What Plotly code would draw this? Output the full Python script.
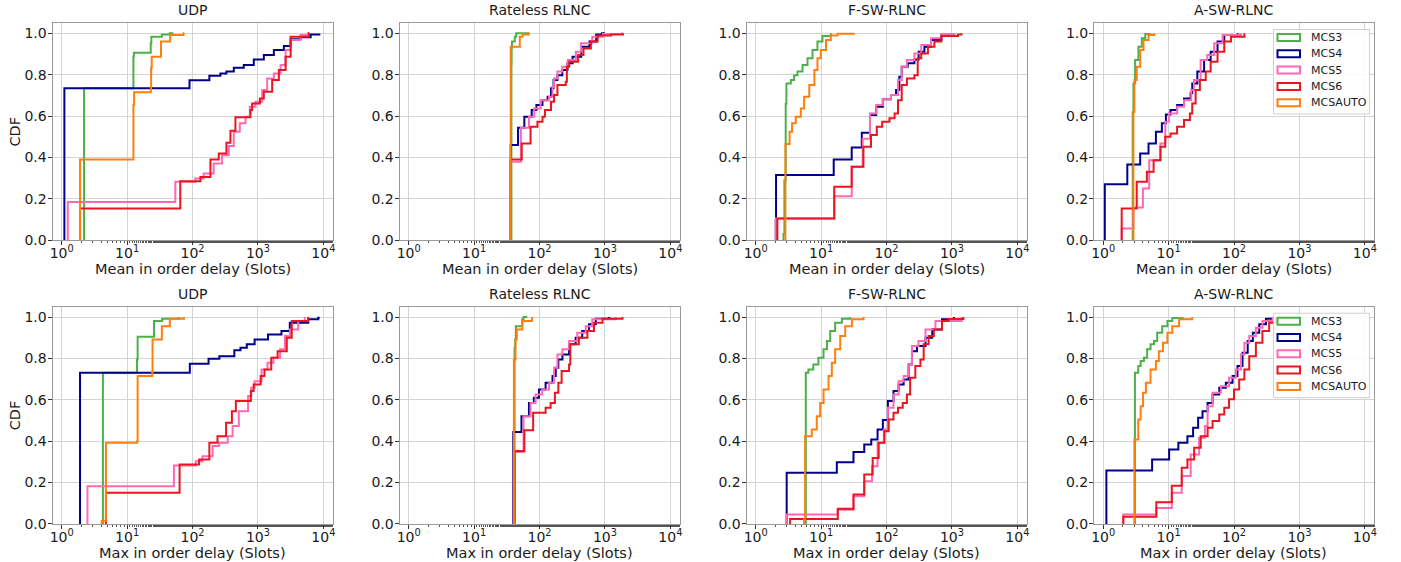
import plotly.graph_objects as go

# ---------------- labels ----------------
series_names = ["MCS3", "MCS4", "MCS5", "MCS6", "MCSAUTO"]
series_colors = ["#4daf4a", "#00008b", "#ff69b4", "#e8161e", "#ff7f0e"]
panel_titles = ["UDP", "Rateless RLNC", "F-SW-RLNC", "A-SW-RLNC"]
row_xlabels = ["Mean in order delay (Slots)", "Max in order delay (Slots)"]
y_label = "CDF"
x_tick_vals = [1, 10, 100, 1000, 10000]
x_tick_text = ["10<sup>0</sup>", "10<sup>1</sup>", "10<sup>2</sup>", "10<sup>3</sup>", "10<sup>4</sup>"]
y_tick_vals = [0.0, 0.2, 0.4, 0.6, 0.8, 1.0]

# ---------------- data: step CDFs (delay where the CDF jumps, CDF level after the jump) ----------------
# UDP, mean delay
udp_mean_mcs3_x = [2.2, 12.5, 12.7, 23, 23.5, 34, 45, 51]
udp_mean_mcs3_y = [0.734, 0.887, 0.906, 0.952, 0.984, 0.995, 1.0, 1.0]
udp_mean_mcs4_x = [1.1, 90, 181, 267, 330, 428, 608, 865, 1231, 1753, 2495, 3162, 4470, 6400, 9000]
udp_mean_mcs4_y = [0.734, 0.773, 0.795, 0.806, 0.815, 0.834, 0.847, 0.874, 0.895, 0.919, 0.939, 0.971, 0.981, 0.995, 0.995]
udp_mean_mcs5_x = [1.24, 54.6, 110, 148, 211, 283, 358, 427, 528, 646, 752, 918, 1162, 1386, 1753, 2218, 2648, 3162, 4470, 5800, 6030]
udp_mean_mcs5_y = [0.185, 0.282, 0.298, 0.323, 0.371, 0.411, 0.455, 0.524, 0.565, 0.597, 0.645, 0.669, 0.726, 0.782, 0.806, 0.847, 0.919, 0.968, 0.992, 1.0, 1.0]
udp_mean_mcs6_x = [1.91, 65, 132, 188, 252, 330, 380, 453, 770, 816, 1072, 1230, 1652, 2090, 2650, 3162, 6030, 6100]
udp_mean_mcs6_y = [0.153, 0.285, 0.306, 0.39, 0.419, 0.471, 0.529, 0.594, 0.629, 0.661, 0.685, 0.718, 0.774, 0.823, 0.887, 0.984, 1.0, 1.0]
udp_mean_auto_x = [1.91, 12.5, 12.8, 23, 23.3, 23.8, 33, 45.6, 73, 75]
udp_mean_auto_y = [0.39, 0.653, 0.715, 0.729, 0.834, 0.887, 0.96, 0.992, 1.0, 1.0]

# Rateless RLNC, mean delay
rl_mean_mcs3_x = [37.2, 37.5, 38, 42, 44, 69]
rl_mean_mcs3_y = [0.85, 0.93, 0.96, 0.984, 1.0, 1.0]
rl_mean_mcs4_x = [36.3, 47, 58.6, 75.9, 89.6, 111, 133, 150, 164, 188, 223, 268, 320, 435, 580, 735, 900, 1000]
rl_mean_mcs4_y = [0.46, 0.544, 0.597, 0.629, 0.653, 0.677, 0.694, 0.734, 0.774, 0.798, 0.823, 0.855, 0.887, 0.935, 0.96, 0.995, 1.0, 1.0]
rl_mean_mcs5_x = [36.3, 52, 69, 83, 104, 140, 158, 167, 188, 223, 270, 360, 430, 640, 930, 1850, 1890]
rl_mean_mcs5_y = [0.379, 0.544, 0.597, 0.637, 0.677, 0.694, 0.742, 0.782, 0.815, 0.839, 0.871, 0.911, 0.952, 0.984, 0.997, 1.0, 1.0]
rl_mean_mcs6_x = [36.3, 53.5, 73, 93, 111, 121, 150, 167, 188, 252, 262, 285, 390, 470, 610, 775, 1245, 1890]
rl_mean_mcs6_y = [0.39, 0.468, 0.548, 0.573, 0.597, 0.629, 0.669, 0.702, 0.75, 0.766, 0.839, 0.863, 0.895, 0.927, 0.96, 0.989, 0.995, 1.0]
rl_mean_auto_x = [36.3, 50, 55, 69, 70]
rl_mean_auto_y = [0.935, 0.984, 0.995, 1.0, 1.0]

# F-SW-RLNC, mean delay
fsw_mean_mcs3_x = [2.66, 2.75, 2.88, 2.95, 3.45, 3.87, 4.36, 5.2, 6.2, 7.4, 8.8, 10.5, 14.1]
fsw_mean_mcs3_y = [0.03, 0.29, 0.66, 0.758, 0.774, 0.798, 0.815, 0.847, 0.879, 0.919, 0.96, 0.987, 1.0]
fsw_mean_mcs4_x = [2.03, 2.05, 15.6, 29.4, 41.9, 56, 69.6, 88, 117, 140, 157, 171, 211, 267, 310, 380, 480, 690, 980]
fsw_mean_mcs4_y = [0.097, 0.315, 0.39, 0.448, 0.519, 0.605, 0.645, 0.681, 0.702, 0.726, 0.79, 0.839, 0.855, 0.874, 0.911, 0.935, 0.968, 0.995, 1.0]
fsw_mean_mcs5_x = [2.03, 15.9, 29.4, 43.3, 56, 69.6, 88, 117, 150, 171, 205, 267, 340, 480, 690, 1100]
fsw_mean_mcs5_y = [0.105, 0.213, 0.355, 0.49, 0.613, 0.653, 0.681, 0.702, 0.774, 0.839, 0.871, 0.903, 0.944, 0.976, 0.997, 1.0]
fsw_mean_mcs6_x = [2.15, 15.9, 29.4, 44.4, 58, 71, 86, 111, 133, 150, 171, 205, 267, 300, 340, 430, 540, 690, 1240, 1400]
fsw_mean_mcs6_y = [0.105, 0.258, 0.355, 0.452, 0.508, 0.548, 0.573, 0.589, 0.613, 0.677, 0.75, 0.782, 0.798, 0.879, 0.903, 0.935, 0.96, 0.987, 0.995, 1.0]
fsw_mean_auto_x = [2.85, 3.3, 3.6, 4.1, 4.9, 5.5, 6.6, 7.9, 8.8, 9.9, 11.9, 14.1, 17.9, 32]
fsw_mean_auto_y = [0.465, 0.524, 0.565, 0.597, 0.637, 0.694, 0.75, 0.823, 0.879, 0.919, 0.968, 0.989, 0.998, 1.0]

# A-SW-RLNC, mean delay
asw_mean_mcs3_x = [2.83, 2.9, 3.08, 3.46, 3.9, 4.4, 5.2]
asw_mean_mcs3_y = [0.62, 0.758, 0.871, 0.935, 0.976, 0.997, 1.0]
asw_mean_mcs4_x = [1.06, 2.34, 3.68, 4.94, 6.4, 7.9, 9.1, 10.7, 13.5, 17.2, 21.7, 23, 27.5, 34.9, 44, 56, 71, 114]
asw_mean_mcs4_y = [0.271, 0.366, 0.419, 0.468, 0.524, 0.565, 0.608, 0.629, 0.653, 0.685, 0.71, 0.758, 0.815, 0.871, 0.911, 0.96, 0.992, 1.0]
asw_mean_mcs5_x = [1.92, 2.9, 4.05, 5.06, 7.5, 8.9, 10.1, 13.5, 17.2, 22.2, 24.4, 30.9, 39, 49.7, 67, 128]
asw_mean_mcs5_y = [0.056, 0.158, 0.25, 0.387, 0.468, 0.573, 0.613, 0.645, 0.677, 0.726, 0.774, 0.871, 0.895, 0.952, 0.992, 1.0]
asw_mean_mcs6_x = [1.92, 3.26, 4.66, 5.9, 7.5, 8.9, 10.7, 13.5, 17.2, 21.2, 23, 25.9, 30.1, 37, 44, 56, 71, 90, 144]
asw_mean_mcs6_y = [0.153, 0.282, 0.331, 0.387, 0.452, 0.5, 0.516, 0.548, 0.581, 0.613, 0.661, 0.726, 0.774, 0.815, 0.863, 0.911, 0.96, 0.984, 1.0]
asw_mean_auto_x = [2.9, 3.0, 3.26, 3.68, 4.14, 4.94, 6.06]
asw_mean_auto_y = [0.62, 0.774, 0.839, 0.919, 0.968, 0.992, 1.0]

# UDP, max delay
udp_max_mcs3_x = [4.27, 14.2, 14.5, 25.8, 34.4, 62]
udp_max_mcs3_y = [0.731, 0.795, 0.905, 0.981, 0.992, 1.0]
udp_max_mcs4_x = [1.91, 91, 176, 257, 436, 541, 676, 890, 1425, 2290, 3070, 5880, 8350, 8800]
udp_max_mcs4_y = [0.731, 0.774, 0.798, 0.81, 0.839, 0.852, 0.868, 0.892, 0.916, 0.932, 0.973, 0.989, 0.997, 0.997]
udp_max_mcs5_x = [2.48, 52, 112, 142, 203, 256, 346, 410, 510, 707, 790, 890, 1140, 1400, 1730, 2180, 2590, 3090, 4130, 5200]
udp_max_mcs5_y = [0.182, 0.282, 0.303, 0.327, 0.376, 0.392, 0.424, 0.473, 0.545, 0.618, 0.658, 0.69, 0.747, 0.779, 0.803, 0.844, 0.908, 0.94, 0.981, 1.0]
udp_max_mcs6_x = [4.75, 63.5, 126, 181, 241, 326, 400, 460, 780, 860, 1100, 1260, 1600, 2000, 2760, 3290, 5850]
udp_max_mcs6_y = [0.15, 0.287, 0.311, 0.392, 0.424, 0.489, 0.545, 0.594, 0.642, 0.674, 0.715, 0.747, 0.803, 0.835, 0.9, 0.981, 1.0]
udp_max_auto_x = [4.1, 4.75, 14.2, 14.5, 24.2, 24.5, 34, 45, 74]
udp_max_auto_y = [0.015, 0.392, 0.4, 0.715, 0.731, 0.892, 0.956, 0.992, 1.0]

# Rateless RLNC, max delay
rl_max_mcs3_x = [41.6, 42.5, 43.5, 54.5, 57, 65]
rl_max_mcs3_y = [0.85, 0.892, 0.956, 0.989, 1.0, 1.0]
rl_max_mcs4_x = [39.7, 53, 69, 82, 98, 124, 158, 177, 194, 224, 283, 357, 450, 570, 725, 1170]
rl_max_mcs4_y = [0.444, 0.521, 0.585, 0.61, 0.65, 0.682, 0.715, 0.755, 0.795, 0.819, 0.868, 0.9, 0.932, 0.965, 0.992, 1.0]
rl_max_mcs5_x = [40.6, 57, 73, 87, 110, 140, 167, 188, 224, 283, 378, 510, 640, 1460]
rl_max_mcs5_y = [0.348, 0.521, 0.585, 0.626, 0.65, 0.682, 0.755, 0.819, 0.844, 0.884, 0.924, 0.956, 0.989, 1.0]
rl_max_mcs6_x = [41.6, 58.7, 80, 124, 148, 172, 194, 218, 283, 296, 400, 540, 680, 920, 1860]
rl_max_mcs6_y = [0.352, 0.453, 0.537, 0.561, 0.585, 0.634, 0.682, 0.739, 0.771, 0.868, 0.9, 0.932, 0.973, 0.992, 1.0]
rl_max_auto_x = [40.6, 43, 45, 54.5, 77]
rl_max_auto_y = [0.795, 0.892, 0.94, 0.981, 1.0]

# F-SW-RLNC, max delay
fsw_max_mcs3_x = [5.84, 6.4, 7.6, 9.1, 10.9, 12.3, 13.8, 16.4, 20.8, 27.8]
fsw_max_mcs3_y = [0.731, 0.747, 0.771, 0.803, 0.844, 0.884, 0.932, 0.973, 0.992, 1.0]
fsw_max_mcs4_x = [2.98, 17.4, 31.3, 45.7, 58.5, 73, 88, 105, 128, 153, 183, 218, 245, 292, 394, 500, 706, 1070]
fsw_max_mcs4_y = [0.247, 0.298, 0.347, 0.384, 0.408, 0.456, 0.502, 0.594, 0.642, 0.674, 0.698, 0.771, 0.835, 0.86, 0.9, 0.94, 0.989, 1.0]
fsw_max_mcs5_x = [2.98, 18, 31.3, 45.7, 60, 73, 91, 105, 128, 153, 183, 218, 245, 308, 394, 560, 1410]
fsw_max_mcs5_y = [0.045, 0.069, 0.134, 0.206, 0.279, 0.392, 0.456, 0.561, 0.626, 0.69, 0.715, 0.771, 0.86, 0.884, 0.94, 0.981, 1.0]
fsw_max_mcs6_x = [3.36, 18, 31.3, 45.7, 61.5, 76, 93, 108, 128, 150, 177, 205, 230, 276, 330, 370, 440, 530, 706, 890, 1500]
fsw_max_mcs6_y = [0.024, 0.073, 0.142, 0.239, 0.319, 0.392, 0.448, 0.505, 0.537, 0.561, 0.585, 0.626, 0.706, 0.763, 0.795, 0.868, 0.908, 0.94, 0.981, 0.99, 1.0]
fsw_max_auto_x = [5.5, 5.7, 7.2, 8.6, 9.7, 10.9, 13, 14.6, 16.4, 19.6, 23.4, 29.6, 44.6]
fsw_max_auto_y = [0.02, 0.424, 0.456, 0.521, 0.585, 0.65, 0.715, 0.779, 0.844, 0.908, 0.956, 0.989, 1.0]

# A-SW-RLNC, max delay
asw_max_mcs3_x = [3.06, 3.44, 3.74, 4.2, 4.7, 5.3, 6.0, 6.7, 8.0, 9.6, 11.4, 16.3]
asw_max_mcs3_y = [0.731, 0.763, 0.787, 0.803, 0.844, 0.868, 0.884, 0.924, 0.956, 0.981, 0.995, 1.0]
asw_max_mcs4_x = [1.12, 5.6, 10.2, 14.1, 19.4, 23.7, 28.3, 33, 39.5, 47, 59.5, 75, 95, 113, 135, 162, 194, 243, 308, 390]
asw_max_mcs4_y = [0.258, 0.311, 0.36, 0.392, 0.424, 0.465, 0.513, 0.545, 0.585, 0.626, 0.658, 0.682, 0.715, 0.763, 0.827, 0.884, 0.924, 0.965, 0.992, 1.0]
asw_max_mcs5_x = [2.03, 6.5, 11.2, 15.9, 21.8, 29.3, 35.9, 39.5, 47, 63, 84, 107, 128, 144, 171, 216, 272, 390]
asw_max_mcs5_y = [0.045, 0.077, 0.15, 0.231, 0.335, 0.416, 0.473, 0.569, 0.634, 0.666, 0.706, 0.747, 0.819, 0.876, 0.908, 0.948, 0.981, 1.0]
asw_max_mcs6_x = [2.03, 6.5, 11.2, 15.9, 19.4, 24.6, 31, 39.5, 47, 59.5, 71, 84, 100, 120, 144, 171, 216, 272, 345, 440]
asw_max_mcs6_y = [0.034, 0.105, 0.185, 0.271, 0.311, 0.368, 0.424, 0.465, 0.497, 0.529, 0.561, 0.602, 0.65, 0.698, 0.747, 0.811, 0.876, 0.932, 0.973, 1.0]
asw_max_auto_x = [3.0, 3.44, 3.74, 4.06, 4.5, 5.3, 6.4, 7.1, 8.2, 9.6, 11.4, 14.5, 23]
asw_max_auto_y = [0.408, 0.505, 0.569, 0.634, 0.682, 0.747, 0.787, 0.835, 0.876, 0.924, 0.956, 0.989, 1.0]

panels = [
    [(udp_mean_mcs3_x, udp_mean_mcs3_y), (udp_mean_mcs4_x, udp_mean_mcs4_y), (udp_mean_mcs5_x, udp_mean_mcs5_y),
     (udp_mean_mcs6_x, udp_mean_mcs6_y), (udp_mean_auto_x, udp_mean_auto_y)],
    [(rl_mean_mcs3_x, rl_mean_mcs3_y), (rl_mean_mcs4_x, rl_mean_mcs4_y), (rl_mean_mcs5_x, rl_mean_mcs5_y),
     (rl_mean_mcs6_x, rl_mean_mcs6_y), (rl_mean_auto_x, rl_mean_auto_y)],
    [(fsw_mean_mcs3_x, fsw_mean_mcs3_y), (fsw_mean_mcs4_x, fsw_mean_mcs4_y), (fsw_mean_mcs5_x, fsw_mean_mcs5_y),
     (fsw_mean_mcs6_x, fsw_mean_mcs6_y), (fsw_mean_auto_x, fsw_mean_auto_y)],
    [(asw_mean_mcs3_x, asw_mean_mcs3_y), (asw_mean_mcs4_x, asw_mean_mcs4_y), (asw_mean_mcs5_x, asw_mean_mcs5_y),
     (asw_mean_mcs6_x, asw_mean_mcs6_y), (asw_mean_auto_x, asw_mean_auto_y)],
    [(udp_max_mcs3_x, udp_max_mcs3_y), (udp_max_mcs4_x, udp_max_mcs4_y), (udp_max_mcs5_x, udp_max_mcs5_y),
     (udp_max_mcs6_x, udp_max_mcs6_y), (udp_max_auto_x, udp_max_auto_y)],
    [(rl_max_mcs3_x, rl_max_mcs3_y), (rl_max_mcs4_x, rl_max_mcs4_y), (rl_max_mcs5_x, rl_max_mcs5_y),
     (rl_max_mcs6_x, rl_max_mcs6_y), (rl_max_auto_x, rl_max_auto_y)],
    [(fsw_max_mcs3_x, fsw_max_mcs3_y), (fsw_max_mcs4_x, fsw_max_mcs4_y), (fsw_max_mcs5_x, fsw_max_mcs5_y),
     (fsw_max_mcs6_x, fsw_max_mcs6_y), (fsw_max_auto_x, fsw_max_auto_y)],
    [(asw_max_mcs3_x, asw_max_mcs3_y), (asw_max_mcs4_x, asw_max_mcs4_y), (asw_max_mcs5_x, asw_max_mcs5_y),
     (asw_max_mcs6_x, asw_max_mcs6_y), (asw_max_auto_x, asw_max_auto_y)],
]

# ---------------- layout geometry (pixels) ----------------
W, H = 1401, 562
col_left = [52.5, 399.5, 746.5, 1094.0]
col_width = 280.0
row_top = [23.0, 306.7]
row_height = 217.2

FONT = "DejaVu Sans, Liberation Sans, Arial, sans-serif"
TXT = "#1a1a1a"
FRAME = "#9a9a9a"
GRID = "#d4d4d4"

fig = go.Figure()
layout = dict(
    width=W, height=H, autosize=False,
    margin=dict(l=0, r=0, t=0, b=0, autoexpand=False),
    paper_bgcolor="white", plot_bgcolor="white",
    showlegend=False,
    font=dict(family=FONT, size=14, color=TXT),
)
annotations = []
shapes = []

for p in range(8):
    r, c = divmod(p, 4)
    idx = p + 1
    xa = "xaxis" if idx == 1 else f"xaxis{idx}"
    ya = "yaxis" if idx == 1 else f"yaxis{idx}"
    xref = "x" if idx == 1 else f"x{idx}"
    yref = "y" if idx == 1 else f"y{idx}"
    x0 = col_left[c] / W
    x1 = (col_left[c] + col_width) / W
    y1 = 1 - row_top[r] / H
    y0 = 1 - (row_top[r] + row_height) / H
    layout[xa] = dict(
        domain=[x0, x1], anchor=yref, type="log", range=[-0.14, 4.14],
        tickvals=x_tick_vals, ticktext=x_tick_text, automargin=False,
        ticks="outside", ticklen=4, tickwidth=1, tickcolor="#333",
        ticklabelstandoff=-4,
        showline=True, linecolor=FRAME, linewidth=1, mirror=True,
        showgrid=True, gridcolor=GRID, gridwidth=1, zeroline=False,
        tickfont=dict(family=FONT, size=14, color=TXT),
        minor=dict(ticks="outside", ticklen=2, tickwidth=1, tickcolor="#555", showgrid=False),
    )
    layout[ya] = dict(
        domain=[y0, y1], anchor=xref, range=[0, 1.05], automargin=False,
        tickvals=y_tick_vals, tickformat=".1f",
        ticks="outside", ticklen=4, tickwidth=1, tickcolor="#333",
        ticklabelstandoff=-2,
        showline=True, linecolor=FRAME, linewidth=1, mirror=True,
        showgrid=True, gridcolor=GRID, gridwidth=1, zeroline=False,
        tickfont=dict(family=FONT, size=14, color=TXT),
    )

    # panel title
    annotations.append(dict(
        text=panel_titles[c], xref="paper", yref="paper",
        x=(x0 + x1) / 2, y=y1 + 3 / H, xanchor="center", yanchor="bottom",
        showarrow=False, font=dict(family=FONT, size=14, color=TXT),
    ))
    # x-axis label
    annotations.append(dict(
        text=row_xlabels[r], xref="paper", yref="paper",
        x=(x0 + x1) / 2, y=1 - (row_top[r] + row_height + 29) / H,
        xanchor="center", yanchor="middle",
        showarrow=False, font=dict(family=FONT, size=14.5, color=TXT),
    ))
    # y-axis label
    if c == 0:
        annotations.append(dict(
            text=y_label, xref="paper", yref="paper", textangle=-90,
            x=15 / W, y=(y0 + y1) / 2, xanchor="center", yanchor="middle",
            showarrow=False, font=dict(family=FONT, size=14.5, color=TXT),
        ))

    for s, (xs, ys) in enumerate(panels[p]):
        fig.add_trace(go.Scatter(
            x=[xs[0]] + list(xs), y=[0.0] + list(ys),
            mode="lines", line=dict(color=series_colors[s], width=2, shape="hv"),
            name=series_names[s], xaxis=xref, yaxis=yref, hoverinfo="x+y+name",
        ))

    # legend in the right-most column
    if c == 3:
        top = row_top[r]
        bx0, bx1 = 1273.5, 1369.5
        by0, by1 = top + 6.5, top + 91.0
        shapes.append(dict(type="rect", xref="paper", yref="paper",
                           x0=bx0 / W, x1=bx1 / W, y0=1 - by1 / H, y1=1 - by0 / H,
                           line=dict(color="#d0d0d0", width=1), fillcolor="rgba(255,255,255,0.85)",
                           layer="above"))
        for s, name in enumerate(series_names):
            cy = top + 14.5 + 16.3 * s
            shapes.append(dict(type="rect", xref="paper", yref="paper",
                               x0=1277.5 / W, x1=1300.0 / W,
                               y0=1 - (cy + 3.5) / H, y1=1 - (cy - 3.5) / H,
                               line=dict(color=series_colors[s], width=2), fillcolor="rgba(0,0,0,0)",
                               layer="above"))
            annotations.append(dict(
                text=name, xref="paper", yref="paper", x=1308.5 / W, y=1 - cy / H,
                xanchor="left", yanchor="middle", showarrow=False,
                font=dict(family=FONT, size=11, color=TXT),
            ))

layout["annotations"] = annotations
layout["shapes"] = shapes
fig.update_layout(**layout)
fig.write_html(
    "out.html",
    config={"displayModeBar": False},
    post_script="document.body.style.margin='0px';document.body.style.overflow='hidden';",
)
